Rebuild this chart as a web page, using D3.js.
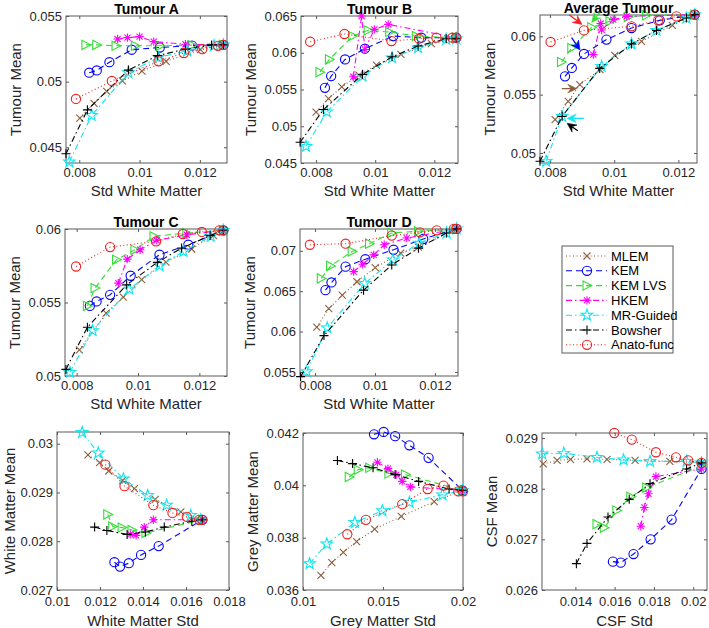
<!DOCTYPE html>
<html><head><meta charset="utf-8">
<script src="https://cdn.jsdelivr.net/npm/d3@7"></script>
<style>body{margin:0;background:#fff} svg{display:block;font-family:"Liberation Sans",Arial,sans-serif}</style>
</head><body><svg id="chart" width="709" height="628"></svg>
<script>
// ---------- DATA ----------
const methods = ["MLEM", "KEM", "KEM LVS", "HKEM", "MR-Guided", "Bowsher", "Anato-func"];
const colors  = ["#8c5e3c", "#0000ff", "#33dd33", "#ff00ff", "#11e6ee", "#000000", "#ee2020"];
const markers = ["x", "o", ">", "*", "p", "+", "o"];
const dashes  = ["1,2.5", "6,4", "6,4", "6,3,1.5,3", "6,3,1.5,3", "6,3,1.5,3", "1,2.5"];

// each panel: one array per method in the order of `methods`, points are [x, y]
const tumourA = [
  [[0.00802,0.04722],[0.00849,0.04835],[0.00891,0.04925],[0.00943,0.05005],[0.01008,0.0508],[0.01088,0.05155],[0.01202,0.05243],[0.01274,0.0528]],
  [[0.00833,0.05068],[0.00858,0.05085],[0.009,0.05148],[0.00974,0.05243],[0.01067,0.0526],[0.01174,0.05275],[0.01278,0.0528]],
  [[0.00822,0.0528],[0.00858,0.0528],[0.00922,0.05273],[0.00986,0.05273],[0.01069,0.05273],[0.01174,0.05278],[0.01278,0.0528]],
  [[0.00927,0.05325],[0.0096,0.05335],[0.01,0.05343],[0.01047,0.05305],[0.01152,0.05285],[0.01278,0.0528]],
  [[0.00767,0.04388],[0.00841,0.04743],[0.00963,0.05068],[0.01063,0.05185],[0.01158,0.05235],[0.01247,0.05273],[0.01278,0.0528]],
  [[0.00756,0.0445],[0.00827,0.04785],[0.00963,0.05088],[0.0106,0.05198],[0.01152,0.05248],[0.01239,0.0528],[0.01278,0.0528]],
  [[0.00789,0.04868],[0.00908,0.05005],[0.01063,0.05155],[0.01147,0.05218],[0.01208,0.05248],[0.0126,0.05273],[0.01278,0.0528]]
];
const tumourB = [
  [[0.008,0.05191],[0.00842,0.05377],[0.00887,0.05536],[0.00945,0.05695],[0.01004,0.05832],[0.01087,0.05977],[0.0119,0.06123],[0.01269,0.06191]],
  [[0.0083,0.05523],[0.00851,0.05682],[0.00898,0.05909],[0.00965,0.06055],[0.01061,0.06227],[0.01156,0.06205],[0.01274,0.06205]],
  [[0.00813,0.05736],[0.00845,0.05909],[0.00924,0.06227],[0.00976,0.06305],[0.01049,0.06282],[0.01139,0.06227],[0.01274,0.06205]],
  [[0.00926,0.05673],[0.00954,0.065],[0.00965,0.06045],[0.00997,0.06318],[0.01044,0.06386],[0.01274,0.06205]],
  [[0.00766,0.04727],[0.00836,0.05195],[0.00957,0.05682],[0.01057,0.05932],[0.01145,0.06068],[0.0124,0.06182],[0.01274,0.06191]],
  [[0.00746,0.04782],[0.00825,0.05227],[0.00957,0.05705],[0.01057,0.05945],[0.01145,0.06091],[0.0124,0.06191],[0.01274,0.06191]],
  [[0.0078,0.0615],[0.00896,0.06255],[0.01055,0.06159],[0.01148,0.06191],[0.01207,0.06205],[0.01261,0.06205],[0.01274,0.06205]]
];
const tumourAvg = [
  [[0.00816,0.05286],[0.00857,0.05443],[0.00893,0.05586],[0.00956,0.05715],[0.01002,0.05837],[0.01085,0.05957],[0.01181,0.06094],[0.01251,0.06186]],
  [[0.00847,0.05657],[0.00868,0.05729],[0.00906,0.05849],[0.00976,0.05972],[0.01054,0.06071],[0.01142,0.06137],[0.01251,0.06186]],
  [[0.00836,0.0578],[0.00868,0.059],[0.0093,0.06077],[0.00987,0.06129],[0.01044,0.06166],[0.01101,0.0618],[0.01251,0.06186]],
  [[0.00935,0.05843],[0.00958,0.0611],[0.00961,0.06055],[0.00997,0.06143],[0.01039,0.06171],[0.01251,0.06186]],
  [[0.00788,0.04929],[0.00838,0.05314],[0.00961,0.05743],[0.01054,0.05935],[0.01132,0.06051],[0.01225,0.06157],[0.01251,0.06186]],
  [[0.00769,0.04929],[0.00838,0.05314],[0.00955,0.05725],[0.01054,0.05935],[0.01132,0.06051],[0.01225,0.06157],[0.01251,0.06186]],
  [[0.00802,0.05952],[0.00906,0.06051],[0.01054,0.06086],[0.01137,0.06137],[0.01194,0.06171],[0.01251,0.06186]]
];
const tumourC = [
  [[0.00809,0.05177],[0.00896,0.05427],[0.00952,0.05536],[0.01012,0.05655],[0.01091,0.05775],[0.01175,0.05864],[0.01246,0.05955],[0.01278,0.05991]],
  [[0.00843,0.05477],[0.00865,0.05507],[0.00909,0.05552],[0.00976,0.05682],[0.0107,0.05825],[0.01164,0.05893],[0.01278,0.05991]],
  [[0.00835,0.05477],[0.0086,0.05598],[0.0093,0.05791],[0.0099,0.05859],[0.01052,0.0595],[0.01159,0.05973],[0.01278,0.05991]],
  [[0.00936,0.05632],[0.00965,0.05795],[0.01007,0.05859],[0.01061,0.05923],[0.01159,0.05961],[0.01278,0.05991]],
  [[0.00778,0.05025],[0.00852,0.05309],[0.00972,0.05591],[0.0107,0.0575],[0.01148,0.05848],[0.01237,0.0595],[0.01278,0.05991]],
  [[0.00765,0.05045],[0.00835,0.05332],[0.00963,0.0562],[0.01063,0.05773],[0.01142,0.0587],[0.01235,0.05955],[0.01278,0.05991]],
  [[0.00798,0.05745],[0.00909,0.05877],[0.01059,0.05916],[0.01146,0.05966],[0.01208,0.0598],[0.01265,0.05991],[0.01278,0.05991]]
];
const tumourD = [
  [[0.00806,0.06054],[0.00846,0.06283],[0.00891,0.0645],[0.0094,0.06617],[0.01001,0.06792],[0.01086,0.06971],[0.01145,0.07046],[0.01272,0.07271]],
  [[0.00835,0.06513],[0.00855,0.06608],[0.00902,0.06804],[0.00968,0.06896],[0.01062,0.07013],[0.01161,0.07146],[0.01272,0.07271]],
  [[0.00821,0.06658],[0.00852,0.06813],[0.00924,0.06992],[0.00982,0.07088],[0.01056,0.07221],[0.01145,0.07242],[0.01272,0.07271]],
  [[0.00929,0.06742],[0.00959,0.06833],[0.00996,0.0695],[0.01031,0.07075],[0.01106,0.07158],[0.01272,0.07271]],
  [[0.00772,0.05504],[0.00841,0.06046],[0.00966,0.06596],[0.0106,0.06888],[0.01148,0.07096],[0.01239,0.07221],[0.01272,0.07271]],
  [[0.00752,0.05442],[0.0083,0.0595],[0.00962,0.06513],[0.01056,0.06825],[0.01145,0.07033],[0.01239,0.07221],[0.01272,0.07271]],
  [[0.00783,0.07075],[0.00902,0.07088],[0.01056,0.07188],[0.0115,0.07229],[0.01206,0.07254],[0.01263,0.07271],[0.01272,0.07271]]
];
const whiteMatter = [
  [[0.01144,0.02977],[0.01198,0.02961],[0.01241,0.02944],[0.01305,0.02925],[0.0136,0.02908],[0.01457,0.02886],[0.01576,0.0286],[0.01676,0.02844]],
  [[0.01267,0.02757],[0.01293,0.02748],[0.01334,0.02755],[0.01391,0.02772],[0.01473,0.0279],[0.01676,0.02844]],
  [[0.01236,0.02855],[0.01259,0.0283],[0.01303,0.02828],[0.01349,0.02823],[0.01414,0.02817],[0.01676,0.02844]],
  [[0.01341,0.02814],[0.01368,0.02812],[0.01406,0.02829],[0.01448,0.02844],[0.01676,0.02844]],
  [[0.01117,0.03023],[0.01192,0.02981],[0.01309,0.02928],[0.01422,0.02894],[0.0151,0.02874],[0.01622,0.02853],[0.01669,0.02844]],
  [[0.01175,0.02829],[0.01232,0.02822],[0.01326,0.02814],[0.01411,0.02819],[0.01499,0.02829],[0.01627,0.02841],[0.01676,0.02844]],
  [[0.01225,0.02957],[0.01314,0.02913],[0.01448,0.02874],[0.01537,0.02858],[0.01604,0.0285],[0.01661,0.02844],[0.01676,0.02844]]
];
const greyMatter = [
  [[0.01112,0.03656],[0.0118,0.03705],[0.01252,0.03744],[0.01335,0.03785],[0.01448,0.03833],[0.01614,0.03881],[0.0182,0.03938],[0.01996,0.03981]],
  [[0.01444,0.04195],[0.01504,0.04204],[0.01576,0.04188],[0.01665,0.04153],[0.01785,0.04105],[0.01996,0.03981]],
  [[0.01289,0.04032],[0.01345,0.0406],[0.01417,0.04067],[0.01537,0.04045],[0.0164,0.04041],[0.01996,0.03981]],
  [[0.01465,0.04088],[0.01531,0.04064],[0.01583,0.04041],[0.0162,0.04015],[0.01671,0.03994],[0.01996,0.03981]],
  [[0.01041,0.03701],[0.01149,0.03776],[0.01324,0.03858],[0.01496,0.03903],[0.01665,0.03935],[0.01872,0.03964],[0.01996,0.03981]],
  [[0.01215,0.04095],[0.0131,0.04083],[0.01438,0.04067],[0.01576,0.04041],[0.01723,0.04015],[0.01913,0.03986],[0.01996,0.03981]],
  [[0.01277,0.03813],[0.01393,0.03868],[0.0162,0.03928],[0.01779,0.03986],[0.01878,0.03999],[0.01971,0.03977],[0.02,0.03977]]
];
const csf = [
  [[0.01236,0.02849],[0.01307,0.02856],[0.01375,0.02858],[0.01459,0.02859],[0.01561,0.02858],[0.01704,0.02856],[0.01881,0.02854],[0.02042,0.02851]],
  [[0.01591,0.02656],[0.01631,0.02654],[0.01696,0.02671],[0.01783,0.027],[0.0189,0.02739],[0.02042,0.02839]],
  [[0.0151,0.0273],[0.01547,0.02723],[0.01611,0.02757],[0.01682,0.02784],[0.01763,0.02802],[0.02042,0.02845]],
  [[0.01733,0.02726],[0.01751,0.02763],[0.01772,0.0279],[0.0181,0.02824],[0.02042,0.02839]],
  [[0.01231,0.02869],[0.01341,0.0287],[0.0151,0.02862],[0.01645,0.02857],[0.0178,0.02854],[0.01966,0.02854],[0.02042,0.02851]],
  [[0.01405,0.02652],[0.01459,0.02692],[0.01566,0.02744],[0.01674,0.02779],[0.0178,0.0281],[0.01966,0.02839],[0.02042,0.02851]],
  [[0.01598,0.0291],[0.01687,0.02897],[0.0181,0.02872],[0.01912,0.02862],[0.01974,0.02856],[0.02042,0.02851]]
];

// tick values
const tumourXTicks = [0.008, 0.01, 0.012];
const ticksA_y = [0.045, 0.05, 0.055];
const ticksB_y = [0.045, 0.05, 0.055, 0.06, 0.065];
const ticksAvg_y = [0.05, 0.055, 0.06];
const ticksC_y = [0.05, 0.055, 0.06];
const ticksD_y = [0.055, 0.06, 0.065, 0.07];
const wmXTicks = [0.01, 0.012, 0.014, 0.016, 0.018];
const wmYTicks = [0.027, 0.028, 0.029, 0.03];
const gmXTicks = [0.01, 0.015, 0.02];
const gmYTicks = [0.036, 0.038, 0.04, 0.042];
const csfXTicks = [0.014, 0.016, 0.018, 0.02];
const csfYTicks = [0.026, 0.027, 0.028, 0.029];

// arrows on the "Average Tumour" panel: [method index, point index]
const avgArrowTargets = [[6, 1], [2, 2], [1, 2], [0, 2], [4, 1], [5, 1]];

// ---------- LAYOUT ----------
const panels = [
  {title:"Tumour A", data:tumourA, xd:[0.00756,0.0129], yd:[0.0438,0.055], box:[66,16,227,163], xt:tumourXTicks, yt:ticksA_y, xl:"Std White Matter", yl:"Tumour Mean", tickOff:5, labOff:27},
  {title:"Tumour B", data:tumourB, xd:[0.00749,0.0128], yd:[0.045,0.065], box:[301,16,458,163], xt:tumourXTicks, yt:ticksB_y, xl:"Std White Matter", yl:"Tumour Mean", tickOff:5, labOff:27},
  {title:"Average Tumour", data:tumourAvg, xd:[0.00769,0.01258], yd:[0.04914,0.06183], box:[540,15,697,163], xt:tumourXTicks, yt:ticksAvg_y, xl:"Std White Matter", yl:"Tumour Mean", tickOff:5, labOff:27, arrows:true},
  {title:"Tumour C", data:tumourC, xd:[0.00762,0.0129], yd:[0.05,0.06], box:[65,229,227,376], xt:tumourXTicks, yt:ticksC_y, xl:"Std White Matter", yl:"Tumour Mean", tickOff:5, labOff:27},
  {title:"Tumour D", data:tumourD, xd:[0.0075,0.01277], yd:[0.0545,0.0727], box:[300,229,458,376], xt:tumourXTicks, yt:ticksD_y, xl:"Std White Matter", yl:"Tumour Mean", tickOff:5, labOff:27},
  {title:"", data:whiteMatter, xd:[0.01,0.018], yd:[0.027,0.03024], box:[57,432,229,590], xt:wmXTicks, yt:wmYTicks, xl:"White Matter Std", yl:"White Matter Mean", tickOff:7, labOff:30},
  {title:"", data:greyMatter, xd:[0.01,0.02], yd:[0.036,0.042], box:[303,433,463,590], xt:gmXTicks, yt:gmYTicks, xl:"Grey Matter Std", yl:"Grey Matter Mean", tickOff:7, labOff:30},
  {title:"", data:csf, xd:[0.0123,0.0207], yd:[0.026,0.0291], box:[542,433,707,590], xt:csfXTicks, yt:csfYTicks, xl:"CSF Std", yl:"CSF Mean", tickOff:7, labOff:30}
];

const svg = d3.select("#chart");
const fmt = v => String(+v.toFixed(5));
const axisColor = "#5a5a5a";

function markerPath(t) {
  if (t === "x") { const s = 3.5; return `M${-s},${-s}L${s},${s}M${-s},${s}L${s},${-s}`; }
  if (t === "+") { const s = 4.5; return `M${-s},0H${s}M0,${-s}V${s}`; }
  if (t === "o") { const r = 4.6; return `M${r},0A${r},${r} 0 1,1 ${-r},0A${r},${r} 0 1,1 ${r},0Z`; }
  if (t === ">") { return `M-4,-4.6L4.8,0L-4,4.6Z`; }
  if (t === "*") { const s = 4.2, d = s * 0.72; return `M${-s},0H${s}M0,${-s}V${s}M${-d},${-d}L${d},${d}M${-d},${d}L${d},${-d}`; }
  if (t === "p") {
    const R = 6, r = 2.4; let p = "";
    for (let i = 0; i < 10; i++) {
      const a = -Math.PI / 2 + i * Math.PI / 5, rr = i % 2 ? r : R;
      p += (i ? "L" : "M") + (rr * Math.cos(a)).toFixed(2) + "," + (rr * Math.sin(a)).toFixed(2);
    }
    return p + "Z";
  }
}

function drawArrow(g, tx, ty, ang, len, color) {
  const a = ang * Math.PI / 180, ux = Math.cos(a), uy = Math.sin(a);
  const hl = 9, hw = 4.3, notch = 3.2;
  const bx = tx - ux * hl, by = ty - uy * hl, px = -uy, py = ux;
  const nx = tx - ux * (hl - notch), ny = ty - uy * (hl - notch);
  g.append("line").attr("x1", tx - ux * len).attr("y1", ty - uy * len).attr("x2", nx).attr("y2", ny)
    .attr("stroke", color).attr("stroke-width", 1.3);
  g.append("path").attr("d", `M${tx},${ty}L${bx + px * hw},${by + py * hw}L${nx},${ny}L${bx - px * hw},${by - py * hw}Z`)
    .attr("fill", color).attr("stroke", color).attr("stroke-width", 0.6);
}

// arrow styling: [tip dx, tip dy, angle, length] relative to the target point
const arrowStyle = [[-2,-6,37,16],[0,-5,129,14],[-4,-4,56,15],[-3,4,0,15],[5,2,180,17],[5,7,215,13]];

panels.forEach(p => {
  const [x0, y0, x1, y1] = p.box;
  const x = d3.scaleLinear().domain(p.xd).range([x0, x1]);
  const y = d3.scaleLinear().domain(p.yd).range([y1, y0]);
  const g = svg.append("g");

  // box
  g.append("rect").attr("x", x0).attr("y", y0).attr("width", x1 - x0).attr("height", y1 - y0)
    .attr("fill", "#fff").attr("stroke", axisColor).attr("stroke-width", 1);

  // axes
  const styleAxis = sel => {
    sel.select(".domain").remove();
    sel.selectAll(".tick line").attr("stroke", axisColor);
    sel.selectAll("text").attr("fill", "#262626").style("font-size", "13px").style("font-family", '"Liberation Sans",Arial,sans-serif');
  };
  g.append("g").attr("transform", `translate(0,${y1})`)
    .call(d3.axisBottom(x).tickValues(p.xt).tickSize(-3).tickPadding(p.tickOff).tickFormat(fmt)).call(styleAxis);
  g.append("g").attr("transform", `translate(0,${y0})`)
    .call(d3.axisTop(x).tickValues(p.xt).tickSize(-3).tickFormat("")).call(styleAxis);
  g.append("g").attr("transform", `translate(${x0},0)`)
    .call(d3.axisLeft(y).tickValues(p.yt).tickSize(-3).tickPadding(4).tickFormat(fmt)).call(styleAxis);
  g.append("g").attr("transform", `translate(${x1},0)`)
    .call(d3.axisRight(y).tickValues(p.yt).tickSize(-3).tickFormat("")).call(styleAxis);

  // series
  const line = d3.line().x(d => x(d[0])).y(d => y(d[1]));
  p.data.forEach((pts, i) => {
    const sg = g.append("g");
    sg.append("path").attr("d", line(pts)).attr("fill", "none").attr("stroke", colors[i])
      .attr("stroke-width", 1.1).attr("stroke-dasharray", dashes[i]);
    sg.selectAll("path.m").data(pts).join("path").attr("class", "m")
      .attr("transform", d => `translate(${x(d[0])},${y(d[1])})`)
      .attr("d", markerPath(markers[i])).attr("fill", "none").attr("stroke", colors[i]).attr("stroke-width", 1.1);
  });

  if (p.arrows) {
    avgArrowTargets.forEach(([mi, pi], k) => {
      const pt = p.data[mi][pi], st = arrowStyle[k];
      drawArrow(g, x(pt[0]) + st[0], y(pt[1]) + st[1], st[2], st[3], colors[mi]);
    });
  }

  // labels
  const cx = (x0 + x1) / 2, cy = (y0 + y1) / 2;
  if (p.title) g.append("text").attr("x", cx).attr("y", y0 - 2).attr("text-anchor", "middle")
    .style("font-size", "14px").style("font-weight", "bold").attr("fill", "#000").text(p.title);
  g.append("text").attr("x", cx).attr("y", y1 + p.labOff).attr("text-anchor", "middle").attr("dominant-baseline", "central")
    .style("font-size", "15px").attr("fill", "#262626").text(p.xl);
  g.append("text").attr("transform", `translate(${Math.max(x0 - 51, 9)},${cy}) rotate(-90)`).attr("text-anchor", "middle")
    .attr("dominant-baseline", "central").style("font-size", "15px").attr("fill", "#262626").text(p.yl);
});

// legend
const lg = svg.append("g");
lg.append("rect").attr("x", 562).attr("y", 246).attr("width", 111).attr("height", 107)
  .attr("fill", "#fff").attr("stroke", axisColor).attr("stroke-width", 1);
methods.forEach((m, i) => {
  const yy = 256 + i * 14.8;
  lg.append("line").attr("x1", 566).attr("x2", 607).attr("y1", yy).attr("y2", yy)
    .attr("stroke", colors[i]).attr("stroke-width", 1.1).attr("stroke-dasharray", dashes[i]);
  lg.append("path").attr("transform", `translate(587,${yy})`).attr("d", markerPath(markers[i]))
    .attr("fill", "none").attr("stroke", colors[i]).attr("stroke-width", 1.1);
  lg.append("text").attr("x", 611).attr("y", yy).attr("dominant-baseline", "central")
    .style("font-size", "13px").attr("fill", "#000").text(m);
});
</script></body></html>
